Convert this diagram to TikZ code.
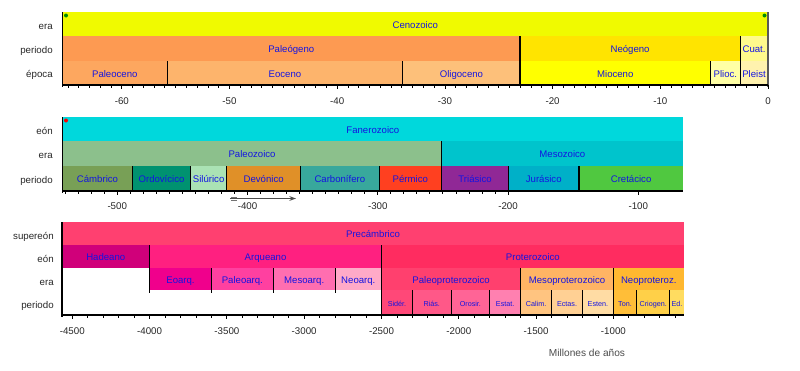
\documentclass[tikz,border=0pt]{standalone}
\usepackage{fontspec}
\setmainfont{Liberation Sans}
\usetikzlibrary{arrows.meta}
% colours
\definecolor{cenoz}{RGB}{240,250,0}
\definecolor{paleog}{RGB}{253,154,82}
\definecolor{neog}{RGB}{255,228,0}
\definecolor{cuat}{RGB}{255,250,140}
\definecolor{paleoc}{RGB}{253,167,95}
\definecolor{eoc}{RGB}{253,180,108}
\definecolor{oligo}{RGB}{253,192,122}
\definecolor{mioc}{RGB}{255,255,0}
\definecolor{plioc}{RGB}{255,255,165}
\definecolor{pleist}{RGB}{255,242,174}
\definecolor{fanero}{RGB}{0,216,220}
\definecolor{paleoz}{RGB}{140,192,140}
\definecolor{mesoz}{RGB}{0,196,204}
\definecolor{camb}{RGB}{120,160,86}
\definecolor{ordo}{RGB}{0,146,112}
\definecolor{silu}{RGB}{170,226,180}
\definecolor{devo}{RGB}{224,144,40}
\definecolor{carbo}{RGB}{56,168,156}
\definecolor{perm}{RGB}{255,64,32}
\definecolor{trias}{RGB}{144,40,150}
\definecolor{juras}{RGB}{0,176,200}
\definecolor{creta}{RGB}{80,200,64}
\definecolor{precamb}{RGB}{255,64,112}
\definecolor{hadeano}{RGB}{208,0,122}
\definecolor{arqueano}{RGB}{255,32,128}
\definecolor{protero}{RGB}{255,44,96}
\definecolor{eoarq}{RGB}{240,0,140}
\definecolor{paleoarq}{RGB}{255,64,160}
\definecolor{mesoarq}{RGB}{255,110,176}
\definecolor{neoarq}{RGB}{255,170,200}
\definecolor{paleoprot}{RGB}{255,64,110}
\definecolor{mesoprot}{RGB}{255,180,100}
\definecolor{neoprot}{RGB}{255,184,48}
\definecolor{sider}{RGB}{255,72,120}
\definecolor{rias}{RGB}{255,88,136}
\definecolor{oros}{RGB}{255,100,150}
\definecolor{estat}{RGB}{255,128,176}
\definecolor{calim}{RGB}{255,196,128}
\definecolor{ectas}{RGB}{255,208,148}
\definecolor{esten}{RGB}{255,220,164}
\definecolor{tonic}{RGB}{255,190,56}
\definecolor{criog}{RGB}{255,208,72}
\definecolor{ediac}{RGB}{255,220,96}
\definecolor{lblblue}{RGB}{20,20,225}
\definecolor{axgray}{RGB}{40,40,40}
\newcommand\gbar[8][lbl]{%
  \fill[#7] (#3,#5) rectangle (#4,#6);
  \node[#1] (#2) at ({(#3+#4)/2},{(#5+#6)/2}) {#8};}
\begin{document}
\begin{tikzpicture}[x=0.75pt,y=-0.75pt,
  lbl/.style={inner sep=0pt,text=lblblue,font=\fontsize{7.2}{8}\selectfont,text height=1.5ex,text depth=.25ex},
  slbl/.style={inner sep=0pt,text=lblblue,font=\fontsize{5.4}{6}\selectfont,text height=1.5ex,text depth=.25ex},
  rowlbl/.style={inner sep=0pt,anchor=east,text=axgray,font=\fontsize{7.3}{8}\selectfont,text height=1.5ex,text depth=.25ex},
  num/.style={inner sep=0pt,text=axgray,font=\fontsize{7.3}{8}\selectfont,text height=1.5ex,text depth=.25ex},
  sep/.style={black,line width=0.8pt},
  axis/.style={black,line width=0.8pt},
  tick/.style={black,line width=0.6pt},
  dot/.style={circle,inner sep=0pt,minimum size=3pt}]
\useasboundingbox (0,0) rectangle (800,371);
\fill[white] (0,0) rectangle (800,371);

% ================= TOP PANEL =================
\begin{scope}[shift={(768,0)},xscale=10.77]
\gbar{cenozoico}{-65.5}{0}{12}{36}{cenoz}{Cenozoico}
\gbar{paleogeno}{-65.5}{-23.03}{36}{61}{paleog}{Paleógeno}
\gbar{neogeno}{-23.03}{-2.588}{36}{61}{neog}{Neógeno}
\gbar{cuat}{-2.588}{0}{36}{61}{cuat}{Cuat.}
\gbar{paleoceno}{-65.5}{-55.8}{61}{85}{paleoc}{Paleoceno}
\gbar{eoceno}{-55.8}{-33.9}{61}{85}{eoc}{Eoceno}
\gbar{oligoceno}{-33.9}{-23.03}{61}{85}{oligo}{Oligoceno}
\gbar{mioceno}{-23.03}{-5.332}{61}{85}{mioc}{Mioceno}
\gbar{plioceno}{-5.332}{-2.588}{61}{85}{plioc}{Plioc.}
\gbar{pleistoceno}{-2.588}{0}{61}{85}{pleist}{Pleist}
\draw[sep] (-55.8,61) -- (-55.8,85);
\draw[sep] (-33.9,61) -- (-33.9,85);
\draw[sep] (-23.03,36) -- (-23.03,85);
\draw[sep] (-5.332,61) -- (-5.332,85);
\draw[sep] (-2.588,36) -- (-2.588,85);
\draw[line width=1pt,black!65] (0,12) -- (0,87);
\draw[axis] (-65.5,85) -- (0,85);
\draw[axis,line width=1.1pt] (-65.5,12) -- (-65.5,87);
\foreach \t in {-65,-64,...,0} {\draw[tick] (\t,85) -- (\t,88);}
\foreach \t in {-60,-50,...,0} {\draw[tick] (\t,85) -- (\t,89);
  \node[num] (ta\t) at (\t,100) {\t};}
\end{scope}
\node[dot,fill=green!55!black] (starA) at (66,15.5) {};
\node[dot,fill=green!55!black] (starB) at (764.5,15.5) {};
\node[rowlbl] (ra1) at (53,25) {era};
\node[rowlbl] (ra2) at (53,49) {periodo};
\node[rowlbl] (ra3) at (53,73) {época};

% ================= MIDDLE PANEL =================
\begin{scope}[shift={(768.5,0)},xscale=1.3025]
\gbar{fanerozoico}{-542}{-65.5}{117}{141}{fanero}{Fanerozoico}
\gbar{paleozoico}{-542}{-251}{141}{166}{paleoz}{Paleozoico}
\gbar{mesozoico}{-251}{-65.5}{141}{166}{mesoz}{Mesozoico}
\gbar{cambrico}{-542}{-488.3}{166}{191}{camb}{Cámbrico}
\gbar{ordovicico}{-488.3}{-443.7}{166}{191}{ordo}{Ordovícico}
\gbar{silurico}{-443.7}{-416}{166}{191}{silu}{Silúrico}
\gbar{devonico}{-416}{-359.2}{166}{191}{devo}{Devónico}
\gbar{carbonifero}{-359.2}{-299}{166}{191}{carbo}{Carbonífero}
\gbar{permico}{-299}{-251}{166}{191}{perm}{Pérmico}
\gbar{triasico}{-251}{-199.6}{166}{191}{trias}{Triásico}
\gbar{jurasico}{-199.6}{-145.5}{166}{191}{juras}{Jurásico}
\gbar{cretacico}{-145.5}{-65.5}{166}{191}{creta}{Cretácico}
\draw[sep] (-251,141) -- (-251,191);
\foreach \t in {-488.3,-443.7,-416,-359.2,-299,-199.6,-145.5}
  {\draw[sep] (\t,166) -- (\t,191);}
\draw[axis] (-542,191) -- (-65.5,191);
\draw[axis,line width=1.1pt] (-542,117) -- (-542,193);
\foreach \t in {-540,-530,...,-200} {\draw[tick] (\t,191) -- (\t,194);}
\foreach \t in {-500,-400,...,-100} {\draw[tick] (\t,191) -- (\t,195);
  \node[num] (tb\t) at (\t,205) {\t};}
\end{scope}
\node[dot,fill=red] (starC) at (66,120.5) {};
\coordinate (arrS) at (230,198.5);
\coordinate (arrE) at (296,198.5);
\draw[black!70,line width=0.8pt,-{Stealth[length=5pt,width=3.5pt]}] (arrS) -- (arrE);
\draw[black!55,line width=0.5pt] (231,197) -- (237,197) (231,200) -- (237,200);
\node[rowlbl] (rb1) at (53,130) {eón};
\node[rowlbl] (rb2) at (53,154) {era};
\node[rowlbl] (rb3) at (53,179) {periodo};

% ================= BOTTOM PANEL =================
\begin{scope}[shift={(768,0)},xscale=0.1546]
\gbar{precambrico}{-4567}{-542}{222}{245}{precamb}{Precámbrico}
\gbar{hadeano}{-4567}{-4000}{245}{268}{hadeano}{Hadeano}
\gbar{arqueano}{-4000}{-2500}{245}{268}{arqueano}{Arqueano}
\gbar{proterozoico}{-2500}{-542}{245}{268}{protero}{Proterozoico}
\gbar{eoarqueano}{-4000}{-3600}{268}{290}{eoarq}{Eoarq.}
\gbar{paleoarqueano}{-3600}{-3200}{268}{290}{paleoarq}{Paleoarq.}
\gbar{mesoarqueano}{-3200}{-2800}{268}{290}{mesoarq}{Mesoarq.}
\gbar{neoarqueano}{-2800}{-2500}{268}{290}{neoarq}{Neoarq.}
\gbar{paleoproterozoico}{-2500}{-1600}{268}{290}{paleoprot}{Paleoproterozoico}
\gbar{mesoproterozoico}{-1600}{-1000}{268}{290}{mesoprot}{Mesoproterozoico}
\gbar{neoproterozoico}{-1000}{-542}{268}{290}{neoprot}{Neoproteroz.}
\gbar[slbl]{siderico}{-2500}{-2300}{290}{315}{sider}{Sidér.}
\gbar[slbl]{riasico}{-2300}{-2050}{290}{315}{rias}{Riás.}
\gbar[slbl]{orosirico}{-2050}{-1800}{290}{315}{oros}{Orosir.}
\gbar[slbl]{estaterico}{-1800}{-1600}{290}{315}{estat}{Estat.}
\gbar[slbl]{calimico}{-1600}{-1400}{290}{315}{calim}{Calim.}
\gbar[slbl]{ectasico}{-1400}{-1200}{290}{315}{ectas}{Ectas.}
\gbar[slbl]{estenico}{-1200}{-1000}{290}{315}{esten}{Esten.}
\gbar[slbl]{tonico}{-1000}{-850}{290}{315}{tonic}{Ton.}
\gbar[slbl]{criogenico}{-850}{-635}{290}{315}{criog}{Criogen.}
\gbar[slbl]{ediacarico}{-635}{-542}{290}{315}{ediac}{Ed.}
\draw[sep] (-4000,245) -- (-4000,293);
\foreach \t in {-3600,-3200,-2800} {\draw[sep] (\t,268) -- (\t,293);}
\draw[sep] (-2500,245) -- (-2500,315);
\draw[sep] (-1600,268) -- (-1600,315);
\draw[sep] (-1000,268) -- (-1000,315);
\foreach \t in {-2300,-2050,-1800,-1400,-1200,-850,-635} {\draw[sep] (\t,290) -- (\t,315);}
\draw[axis] (-4567,315) -- (-542,315);
\draw[axis,line width=1.1pt] (-4567,222) -- (-4567,317);
\foreach \t in {-4500,-4400,...,-600} {\draw[tick] (\t,315) -- (\t,318);}
\foreach \t in {-4500,-4000,...,-1000} {\draw[tick] (\t,315) -- (\t,319);
  \node[num] (tc\t) at (\t,330) {\t};}
\end{scope}
\node[rowlbl] (rc1) at (54,235) {supereón};
\node[rowlbl] (rc2) at (54,258) {eón};
\node[rowlbl] (rc3) at (54,281) {era};
\node[rowlbl] (rc4) at (54,304) {periodo};
\node[num,text=black!70,font=\fontsize{7.6}{9}\selectfont] (xlabel) at (587,352) {Millones de años};
\end{tikzpicture}
\end{document}
